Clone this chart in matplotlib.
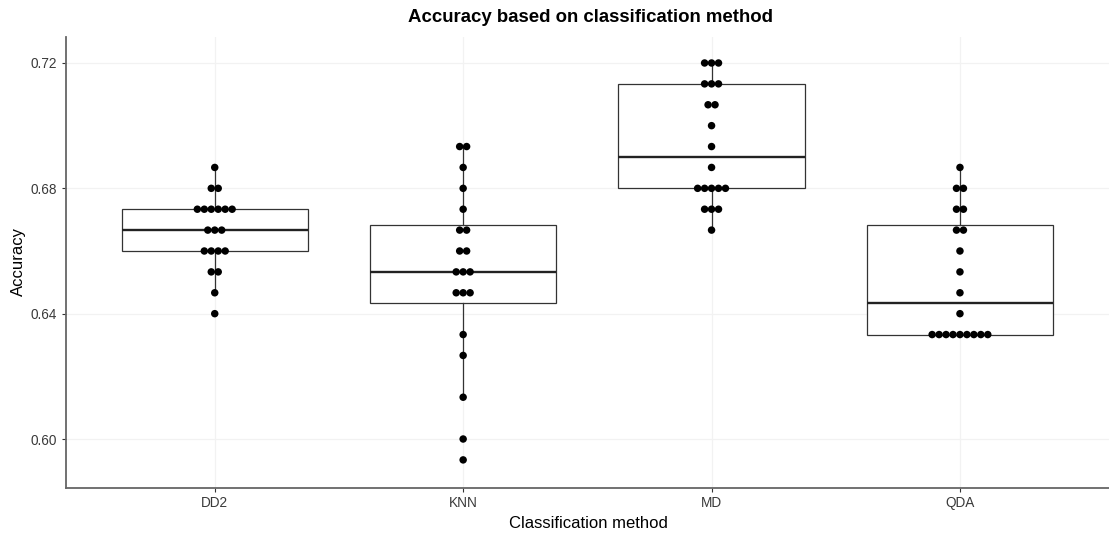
import matplotlib
matplotlib.use("Agg")
import matplotlib.pyplot as plt
import numpy as np

plt.rcParams["font.family"] = ["Liberation Sans", "DejaVu Sans"]

# Correctly classified samples out of the test set, one entry per run
N_TEST = 150
methods = ["DD2", "KNN", "MD", "QDA"]
dd2_correct = [96, 97, 98, 98, 99, 99, 99, 99, 100, 100, 100,
               101, 101, 101, 101, 101, 101, 102, 102, 103]
knn_correct = [89, 90, 92, 94, 95, 97, 97, 97, 98, 98, 98,
               99, 99, 100, 100, 101, 102, 103, 104, 104]
md_correct = [100, 101, 101, 101, 102, 102, 102, 102, 102, 103,
              104, 105, 106, 106, 107, 107, 107, 108, 108, 108]
qda_correct = [95, 95, 95, 95, 95, 95, 95, 95, 95, 96, 97,
               98, 99, 100, 100, 101, 101, 102, 102, 103]

y_ticks = [0.60, 0.64, 0.68, 0.72]

accuracy = [np.array(c) / N_TEST for c in
            (dd2_correct, knn_correct, md_correct, qda_correct)]
positions = np.arange(1, len(methods) + 1)

W, H = 1109, 538
fig = plt.figure(figsize=(W / 100, H / 100), dpi=100)
left, right, top, bottom = 65.7, 1109.0, 36.7, 487.7
ax = fig.add_axes([left / W, 1 - bottom / H, (right - left) / W, (bottom - top) / H])

ax.boxplot(accuracy, positions=positions, widths=0.75, whis=1.5,
           patch_artist=True, showcaps=False, showfliers=False,
           boxprops=dict(facecolor="white", edgecolor="#333333", linewidth=0.9),
           medianprops=dict(color="#222222", linewidth=1.7),
           whiskerprops=dict(color="#333333", linewidth=0.9),
           zorder=2)

# centred dot stacks, one row per distinct value
dot_step = 0.028
for pos, vals in zip(positions, accuracy):
    uniq, counts = np.unique(np.round(vals, 6), return_counts=True)
    for v, n in zip(uniq, counts):
        xs = pos + (np.arange(n) - (n - 1) / 2) * dot_step
        ax.scatter(xs, np.full(n, v), s=29, color="black",
                   edgecolors="none", zorder=3)

ax.set_xlim(0.4, 4.6)
ax.set_ylim(0.58446, 0.72839)
ax.set_xticks(positions)
ax.set_xticklabels(methods)
ax.set_yticks(y_ticks)
ax.set_yticklabels([f"{t:.2f}" for t in y_ticks])

ax.grid(True, color="#F2F2F2", linewidth=0.9)
ax.set_axisbelow(True)
for s in ("top", "right"):
    ax.spines[s].set_visible(False)
for s in ("left", "bottom"):
    ax.spines[s].set_color("#666666")
    ax.spines[s].set_linewidth(1.3)
ax.tick_params(length=3, width=0.8, color="#333333", labelcolor="#3A3A3A",
               labelsize=9.8, pad=3)

fig.text(590 / W, 1 - 17 / H, "Accuracy based on classification method",
         ha="center", va="center", fontsize=13.4, fontweight="bold")
fig.text(588 / W, 1 - 524 / H, "Classification method",
         ha="center", va="center", fontsize=12)
fig.text(18 / W, 1 - 262 / H, "Accuracy", ha="center", va="center",
         rotation=90, fontsize=12)

fig.savefig("out.png", dpi=100)
